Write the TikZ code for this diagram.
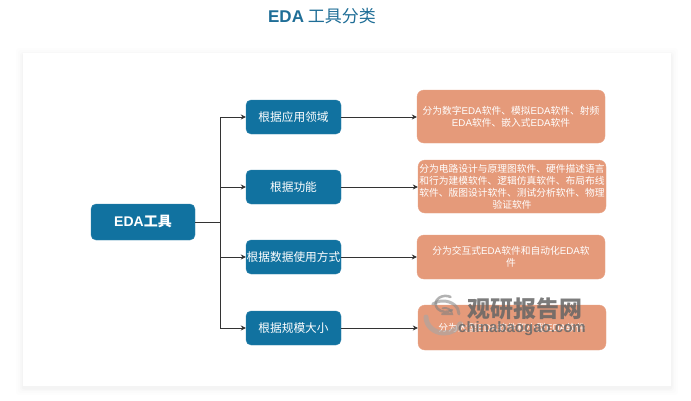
\documentclass[tikz,border=0pt]{standalone}
\usepackage{fontspec}
\setmainfont{Noto Sans CJK SC}
\newfontfamily\latinf{Liberation Sans}
\usetikzlibrary{arrows.meta}
\definecolor{teal}{HTML}{1172A0}
\definecolor{salmon}{HTML}{E59A7A}
\definecolor{titleblue}{HTML}{1F6E97}
\newcommand{\E}{{\latinf EDA}}
\tikzset{
  x=1pt,y=-1pt,
  rootbox/.style={draw=teal!85!white,fill=teal,rounded corners=5pt,minimum width=104pt,minimum height=36pt,inner sep=0pt,text=white,font=\fontsize{14}{16}\selectfont},
  midbox/.style={draw=teal!85!white,fill=teal,rounded corners=5pt,minimum width=95pt,minimum height=34pt,inner sep=0pt,text=white,font=\fontsize{11.7}{14}\selectfont},
  descbox/.style={draw=salmon!90!white,fill=salmon,rounded corners=7pt,minimum width=188pt,inner sep=0pt,text=white,align=center,font=\fontsize{9.75}{12}\selectfont},
  link/.style={draw=black!80,line width=0.7pt,-{Stealth[length=5pt,width=5pt]}},
  plainlink/.style={draw=black!80,line width=0.7pt},
}
\begin{document}
\begin{tikzpicture}
\useasboundingbox (0,0) rectangle (691,400);
\fill[white] (0,0) rectangle (691,400);
\foreach \d/\o in {7/0.006,5/0.008,3/0.01,1.5/0.014}{
  \fill[black,opacity=\o,rounded corners=3pt] (23-\d,53-\d+2) rectangle (671+\d,386+\d+2);
}
\fill[white] (23,53) rectangle (671,386);
\node[text=titleblue,font=\fontsize{17}{20}\selectfont,inner sep=0pt] (title) at (322,16) {{\latinf\bfseries EDA} 工具分类};
\node[rootbox] (eda) at (143,222) {{\latinf\bfseries EDA}\textbf{工具}};
\node[midbox] (b1) at (293.5,117) {根据应用领域};
\node[midbox] (b2) at (293.5,187) {根据功能};
\node[midbox] (b3) at (293.5,257) {根据数据使用方式};
\node[midbox] (b4) at (293.5,328) {根据规模大小};
\node[descbox,minimum height=53pt] (r1) at (511,116.5) {分为数字\E 软件、模拟\E 软件、射频\\\E 软件、嵌入式\E 软件};
\node[descbox,minimum height=53pt] (r2) at (512,186.5) {分为电路设计与原理图软件、硬件描述语言\\和行为建模软件、逻辑仿真软件、布局布线\\软件、版图设计软件、测试分析软件、物理\\验证软件};
\node[descbox,minimum height=44pt] (r3) at (511,257) {分为交互式\E 软件和自动化\E 软\\件};
\node[descbox,minimum height=45pt] (r4) at (512,327.5) {分为大型\E 软件和小型\E 软件};
\coordinate (trunk) at (220,222);
\draw[plainlink] (eda.east) -- (trunk);
\foreach \n in {b1,b2,b3,b4}{
  \draw[link] (trunk) |- (\n.west);
}
\foreach \a/\b in {b1/r1,b2/r2,b3/r3,b4/r4}{
  \draw[link] (\a.east) -- (\a.east -| \b.west);
}
% watermark
\begin{scope}[opacity=0.6,line cap=round]
  \draw[gray!70,line width=5pt] (426,317) arc[start angle=180,end angle=25,x radius=18,y radius=16];
  \draw[gray!90,line width=3pt] (459,314) arc[start angle=0,end angle=-130,x radius=16,y radius=13];
  \draw[gray,line width=2.5pt] (452,310) arc[start angle=50,end angle=300,x radius=10,y radius=8];
  \draw[gray,line width=2pt] (442,314) -- (452,314) arc[start angle=0,end angle=-110,x radius=7,y radius=6];
\end{scope}
\node[text=black!60,opacity=0.85,inner sep=0pt,font=\fontsize{23}{25}\selectfont\bfseries] (wm1) at (525,309) {观研报告网};
\node[text=black!60,opacity=0.85,inner sep=0pt,font=\latinf\bfseries\fontsize{15}{17}\selectfont] (wm2) at (522,329) {chinabaogao.com};
\end{tikzpicture}
\end{document}
